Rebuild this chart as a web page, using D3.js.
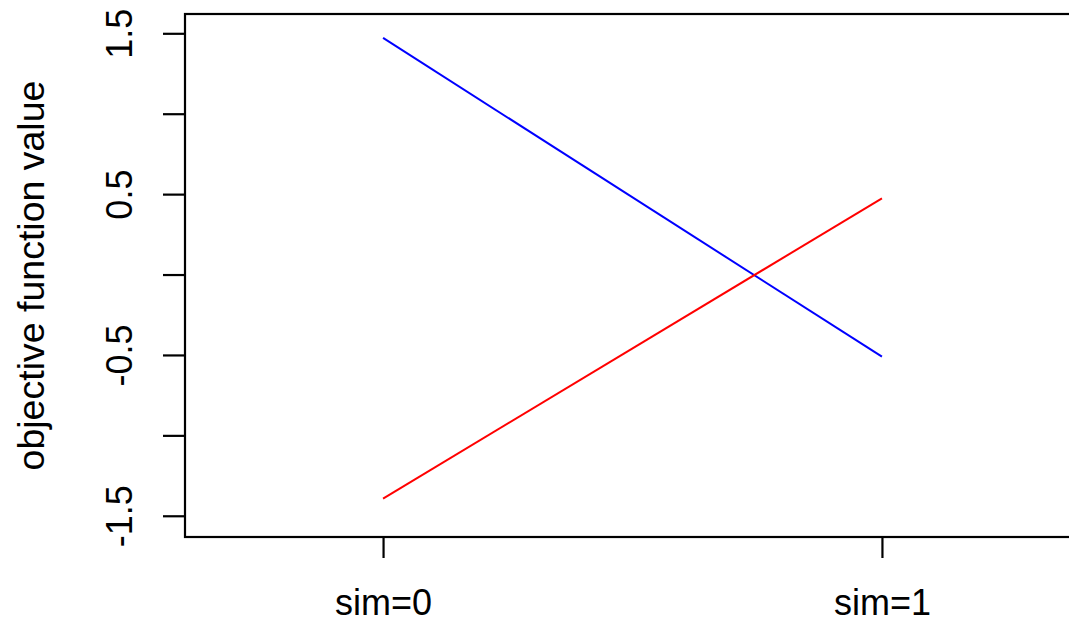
<!DOCTYPE html>
<html><head><meta charset="utf-8">
<script src="https://cdn.jsdelivr.net/npm/d3@7"></script>
<style>body{margin:0;background:#fff}svg{display:block}text{font-family:"Liberation Sans",Arial,sans-serif;fill:#000}</style>
</head><body>
<script>
const categories = ["sim=0", "sim=1"];
const xValues = [0, 1];
const seriesBlue = [1.471, -0.511];
const seriesRed = [-1.393, 0.474];
const yTicks = [-1.5, -1, -0.5, 0, 0.5, 1, 1.5];
const yTickLabels = ["-1.5", "", "-0.5", "", "0.5", "", "1.5"];
const yLabel = "objective function value";

const W = 1069, H = 623;
const L = 185, T = 14, B = 537, R = 1080;
const svg = d3.select("body").append("svg").attr("width", W).attr("height", H);
const x = d3.scaleLinear().domain([-0.397, 1.397]).range([L, R]);
const y = d3.scaleLinear().domain([-1.632, 1.620]).range([B, T]);

const fs = 36;
// lines
const line = d3.line().x((d, i) => x(xValues[i])).y(d => y(d));
svg.append("path").datum(seriesBlue).attr("d", line).attr("fill", "none").attr("stroke", "#0000ff").attr("stroke-width", 2);
svg.append("path").datum(seriesRed).attr("d", line).attr("fill", "none").attr("stroke", "#ff0000").attr("stroke-width", 2);

// box
svg.append("rect").attr("x", L).attr("y", T).attr("width", R - L).attr("height", B - T)
  .attr("fill", "none").attr("stroke", "#000").attr("stroke-width", 2.2);

// y axis
const yAxis = d3.axisLeft(y).tickValues(yTicks).tickSize(22).tickFormat("");
const gy = svg.append("g").attr("transform", `translate(${L},0)`).call(yAxis);
gy.select(".domain").remove();
gy.selectAll(".tick line").attr("stroke", "#000").attr("stroke-width", 2.2);
gy.selectAll(".tick").append("text")
  .attr("transform", "translate(-53,0) rotate(-90)")
  .attr("text-anchor", "middle").attr("font-size", fs).attr("fill", "#000")
  .text((d, i) => yTickLabels[i]);

// x axis
const xAxis = d3.axisBottom(x).tickValues(xValues).tickSize(21).tickFormat("");
const gx = svg.append("g").attr("transform", `translate(0,${B})`).call(xAxis);
gx.select(".domain").remove();
gx.selectAll(".tick line").attr("stroke", "#000").attr("stroke-width", 2.2);
gx.selectAll(".tick").append("text")
  .attr("y", 78).attr("text-anchor", "middle").attr("font-size", fs).attr("fill", "#000")
  .text((d, i) => categories[i]);

svg.append("text").attr("transform", `translate(44,${(T + B) / 2}) rotate(-90)`)
  .attr("text-anchor", "middle").attr("font-size", 37.5).text(yLabel);
</script>
</body></html>
